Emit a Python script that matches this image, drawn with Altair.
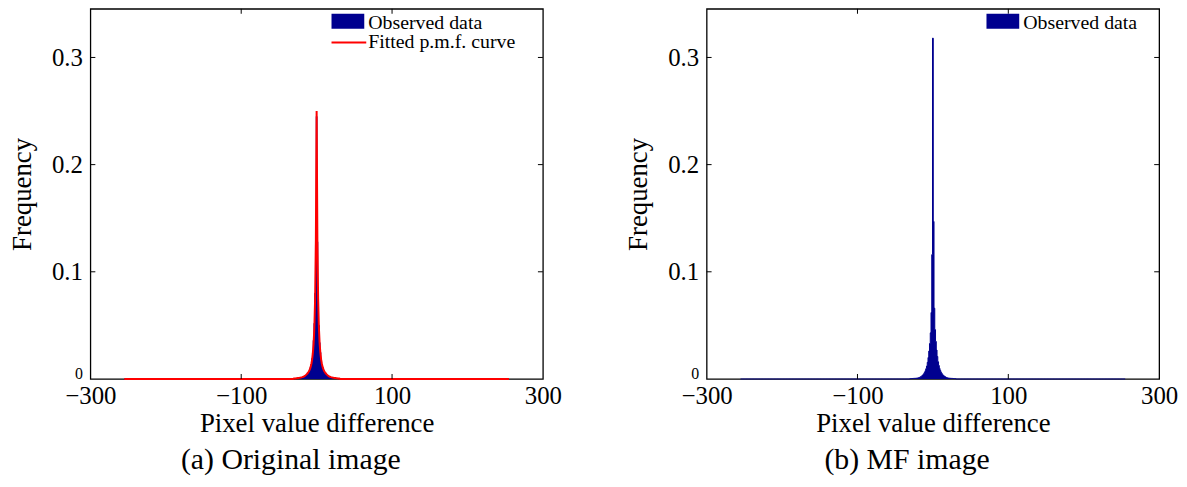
import altair as alt
import pandas as pd

# ---------------- data ----------------
# pixel value differences around the peak; outside this window the
# frequencies sit on the zero line (differences run from -255 to 255)
center_diff = list(range(-30, 31))
diff_min, diff_max = -255, 255

# (a) original image - observed histogram, d = -30 ... 30
orig_observed = [
    0.0003, 0.0003, 0.0004, 0.0004, 0.0005, 0.0006, 0.0007, 0.0008, 0.0009, 0.0011,
    0.0012, 0.0014, 0.0017, 0.0020, 0.0024, 0.0029, 0.0035, 0.0042, 0.0050, 0.0060,
    0.0073, 0.0089, 0.0110, 0.0140, 0.0190, 0.0260, 0.0360, 0.0520, 0.0800, 0.1250,
    0.2450,
    0.1280, 0.0780, 0.0500, 0.0340, 0.0250, 0.0180, 0.0140, 0.0110, 0.0088, 0.0072,
    0.0060, 0.0050, 0.0042, 0.0035, 0.0029, 0.0024, 0.0020, 0.0017, 0.0014, 0.0012,
    0.0011, 0.0009, 0.0008, 0.0007, 0.0006, 0.0005, 0.0004, 0.0004, 0.0003, 0.0003,
]

# (a) original image - fitted p.m.f., d = -30 ... 30
orig_fitted = [
    0.0004, 0.0005, 0.0005, 0.0006, 0.0007, 0.0008, 0.0009, 0.0010, 0.0012, 0.0013,
    0.0015, 0.0017, 0.0020, 0.0023, 0.0027, 0.0032, 0.0038, 0.0045, 0.0053, 0.0063,
    0.0075, 0.0090, 0.0110, 0.0140, 0.0180, 0.0240, 0.0330, 0.0480, 0.0750, 0.1300,
    0.2500,
    0.1300, 0.0750, 0.0480, 0.0330, 0.0240, 0.0180, 0.0140, 0.0110, 0.0090, 0.0075,
    0.0063, 0.0053, 0.0045, 0.0038, 0.0032, 0.0027, 0.0023, 0.0020, 0.0017, 0.0015,
    0.0013, 0.0012, 0.0010, 0.0009, 0.0008, 0.0007, 0.0006, 0.0005, 0.0005, 0.0004,
]

# (b) MF image - observed histogram, d = -30 ... 30
mf_observed = [
    0.0003, 0.0003, 0.0004, 0.0004, 0.0005, 0.0005, 0.0006, 0.0006, 0.0007, 0.0008,
    0.0009, 0.0011, 0.0013, 0.0017, 0.0021, 0.0026, 0.0032, 0.0039, 0.0048, 0.0060,
    0.0076, 0.0095, 0.0120, 0.0155, 0.0200, 0.0260, 0.0330, 0.0430, 0.0620, 0.1160,
    0.3180,
    0.1470, 0.0660, 0.0460, 0.0350, 0.0270, 0.0210, 0.0160, 0.0125, 0.0098, 0.0078,
    0.0062, 0.0050, 0.0040, 0.0033, 0.0027, 0.0022, 0.0018, 0.0014, 0.0011, 0.0009,
    0.0008, 0.0007, 0.0006, 0.0006, 0.0005, 0.0005, 0.0004, 0.0004, 0.0003, 0.0003,
]

x_domain = [-300, 300]
x_ticks = [-300, -100, 100, 300]
inner_x_ticks = [-100, 100]
y_domain = [0, 0.3454]
y_ticks = [0, 0.1, 0.2, 0.3]
inner_y_ticks = [0.1, 0.2, 0.3]

legend_a = ["Observed data", "Fitted p.m.f. curve"]
legend_b = ["Observed data"]
subtitles = ["(a) Original image", "(b) MF image"]
x_title = "Pixel value difference"
y_title = "Frequency"

# ---------------- style ----------------
NAVY = "#00008F"
RED = "#FF0000"
FONT = "Liberation Serif"
W, H = 456, 373
TICK = 5


def expand(values):
    lookup = dict(zip(center_diff, values))
    ds = list(range(diff_min, diff_max + 1))
    return pd.DataFrame({"d": ds, "f": [lookup.get(d, 0.0) for d in ds]})


def xenc():
    return alt.X(
        "d:Q",
        scale=alt.Scale(domain=x_domain, nice=False, zero=False),
        axis=alt.Axis(
            values=x_ticks, format="d", title=x_title, ticks=False, tickSize=0,
            domain=False, grid=False, labelFlush=False, labelOverlap=False,
            labelFont=FONT, labelFontSize=25, labelColor="black", labelPadding=5,
            titleFont=FONT, titleFontSize=27, titleFontWeight="normal",
            titleColor="black", titlePadding=2,
        ),
    )


def yenc():
    return alt.Y(
        "f:Q",
        scale=alt.Scale(domain=y_domain, nice=False, zero=True),
        axis=alt.Axis(
            values=y_ticks, format=".1f",
            labelExpr="datum.value === 0 ? '0' : datum.label",
            title=y_title, ticks=False, tickSize=0, domain=False, grid=False,
            labelOverlap=False, labelFont=FONT,
            labelFontSize={"condition": {"test": "datum.value === 0", "value": 16}, "value": 25},
            labelBaseline={"condition": {"test": "datum.value === 0", "value": "alphabetic"}, "value": "middle"},
            labelColor="black", labelPadding=8,
            titleFont=FONT, titleFontSize=27, titleFontWeight="normal",
            titleColor="black", titlePadding=15,
        ),
    )


def panel(obs_vals, fit_vals, labels, subtitle, lx):
    obs = expand(obs_vals)
    layers = [
        alt.Chart(obs).mark_area(
            interpolate="step", color=NAVY, opacity=1,
            line=alt.OverlayMarkDef(color=NAVY, strokeWidth=1),
        ).encode(x=xenc(), y=yenc())
    ]
    if fit_vals is not None:
        layers.append(
            alt.Chart(expand(fit_vals)).mark_line(color=RED, strokeWidth=2)
            .encode(x=xenc(), y=yenc())
        )
    xt = pd.DataFrame({"d": inner_x_ticks})
    yt = pd.DataFrame({"f": inner_y_ticks})
    layers += [
        alt.Chart(xt).mark_rule(color="black", strokeWidth=1).encode(
            x=xenc(), y=alt.value(H - TICK), y2=alt.value(H)),
        alt.Chart(xt).mark_rule(color="black", strokeWidth=1).encode(
            x=xenc(), y=alt.value(0), y2=alt.value(TICK)),
        alt.Chart(yt).mark_rule(color="black", strokeWidth=1).encode(
            y=yenc(), x=alt.value(0), x2=alt.value(TICK)),
        alt.Chart(yt).mark_rule(color="black", strokeWidth=1).encode(
            y=yenc(), x=alt.value(W - TICK), x2=alt.value(W)),
    ]
    # legend (top right, inside the frame)
    leg = pd.DataFrame({"label": labels})
    layers.append(
        alt.Chart(leg.iloc[[0]]).mark_rect(color=NAVY).encode(
            x=alt.value(lx), x2=alt.value(lx + 33), y=alt.value(5), y2=alt.value(20))
    )
    layers.append(
        alt.Chart(leg.iloc[[0]]).mark_text(
            font=FONT, fontSize=20, align="left", baseline="middle", color="black"
        ).encode(x=alt.value(lx + 37), y=alt.value(14), text="label:N")
    )
    if len(labels) > 1:
        layers.append(
            alt.Chart(leg.iloc[[1]]).mark_rule(color=RED, strokeWidth=2).encode(
                x=alt.value(lx), x2=alt.value(lx + 35), y=alt.value(34))
        )
        layers.append(
            alt.Chart(leg.iloc[[1]]).mark_text(
                font=FONT, fontSize=20, align="left", baseline="middle", color="black"
            ).encode(x=alt.value(lx + 37), y=alt.value(34), text="label:N")
        )
    return alt.layer(*layers).properties(
        width=W, height=H,
        title=alt.TitleParams(
            subtitle, orient="bottom", anchor="middle", font=FONT, fontSize=30,
            fontWeight="normal", color="black", offset=9, dx=-26,
        ),
    )


left = panel(orig_observed, orig_fitted, legend_a, subtitles[0], 243)
right = panel(mf_observed, None, legend_b, subtitles[1], 282)

chart = (
    alt.hconcat(left, right, spacing=62)
    .properties(padding={"left": 0, "top": -3, "right": 0, "bottom": 0})
    .configure_view(stroke="black", strokeWidth=1.3)
)

chart.save("out.html", embed_options={"renderer": "svg", "actions": False})
